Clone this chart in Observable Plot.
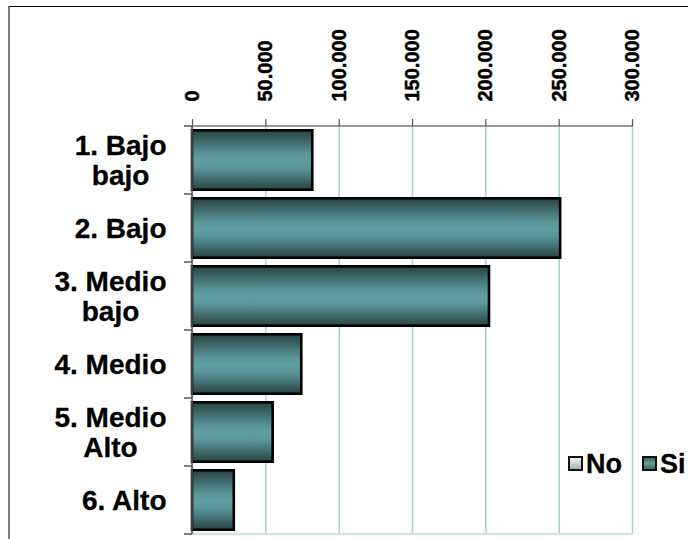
<!DOCTYPE html>
<html><head><meta charset="utf-8">
<script src="https://cdn.jsdelivr.net/npm/d3@7"></script>
<script src="https://cdn.jsdelivr.net/npm/@observablehq/plot@0.6"></script>
<style>
body{margin:0;background:#fff;font-family:"Liberation Sans",Arial,sans-serif;}
#wrap{position:relative;width:688px;height:539px;overflow:hidden;}
#wrap svg{position:absolute;left:0;top:0;}
#wrap svg text{font-weight:bold;}
#wrap svg [aria-label="x-axis tick label"] text{stroke:#000;stroke-width:0.45px;}
#wrap svg [aria-label="y-axis tick label"] text{stroke:#000;stroke-width:0.3px;}
#frame{position:absolute;left:8px;top:6px;width:800px;height:700px;border-left:2px solid #7f7f7f;border-top:1.5px solid #000;}
.legitem{position:absolute;top:449px;font-weight:bold;font-size:27px;color:#000;white-space:nowrap;line-height:30px;-webkit-text-stroke:0.3px #000;}
.legitem span.box{display:inline-block;width:11px;height:11px;border:2px solid #111;vertical-align:2px;margin-right:3px;}
</style></head>
<body>
<div id="wrap"><div id="frame"></div></div>
<script>
const categories = ["1. Bajo bajo","2. Bajo","3. Medio bajo","4. Medio","5. Medio Alto","6. Alto"];
const labels = ["1. Bajo\nbajo","2. Bajo","3. Medio\nbajo","4. Medio","5. Medio\nAlto","6. Alto"];
const siValues = [82000, 251000, 202500, 74500, 55000, 28500];
const noValues = [0, 0, 0, 0, 0, 0];
const xTicks = [0, 50000, 100000, 150000, 200000, 250000, 300000];
const seriesNames = ["No", "Si"];

const data = categories.map((c, i) => ({cat: c, si: siValues[i], no: noValues[i]}));
const fmt = d3.formatLocale({decimal: ",", thousands: ".", grouping: [3], currency: ["", ""]}).format(",d");

function axisLines(index, scales, values, dims) {
  const x = scales.x, y = scales.y;
  const x0 = x(xTicks[0]), x1 = x(xTicks[xTicks.length - 1]);
  const bw = y(categories[1]) - y(categories[0]);
  const top = y(categories[0]);
  const bottom = y(categories[categories.length - 1]) + bw;
  const g = d3.create("svg:g");
  g.append("line").attr("x1", x0).attr("x2", x1).attr("y1", bottom).attr("y2", bottom)
    .attr("stroke", "#d2e5e7").attr("stroke-width", 2.5);
  g.append("line").attr("x1", x0 - 1).attr("x2", x1 + 1).attr("y1", top).attr("y2", top)
    .attr("stroke", "#7a7a7a").attr("stroke-width", 1.5);
  g.append("line").attr("x1", x0).attr("x2", x0).attr("y1", top).attr("y2", bottom)
    .attr("stroke", "#555").attr("stroke-width", 1.5);
  for (let i = 0; i <= categories.length; i++) {
    const yy = top + i * bw;
    g.append("line").attr("x1", x0 - 8).attr("x2", x0).attr("y1", yy).attr("y2", yy)
      .attr("stroke", "#555").attr("stroke-width", 1.5);
  }
  return g.node();
}

const chart = Plot.plot({
  width: 688,
  height: 539,
  marginLeft: 192,
  marginRight: 56,
  marginTop: 125,
  marginBottom: 5,
  style: {fontFamily: "'Liberation Sans', Arial, sans-serif", overflow: "visible", background: "transparent"},
  x: {domain: [0, 300000]},
  y: {domain: categories, padding: 0},
  marks: [
    Plot.gridX(xTicks, {stroke: "#a8ced2", strokeOpacity: 1, strokeWidth: 1.5}),
    Plot.barX(data, {x: "si", y: "cat", fill: "url(#siGrad)", stroke: "#000", strokeWidth: 2.6, insetTop: 4.3, insetBottom: 4.3}),
    axisLines,
    Plot.axisX({anchor: "top", ticks: xTicks, tickFormat: fmt, tickRotate: -90, tickSize: 7, tickPadding: 17,
      fontSize: 20, fontWeight: "bold", fill: "#000", stroke: "#555", strokeWidth: 1.2, label: null}),
    Plot.axisY({tickSize: 0, tickPadding: 26, tickFormat: d => labels[categories.indexOf(d)],
      fontSize: 28, fontWeight: "bold", fill: "#000", lineHeight: 1.08, label: null, textOverflow: null})
  ]
});

const defs = d3.select(chart).insert("defs", ":first-child");
const grad = defs.append("linearGradient").attr("id", "siGrad").attr("x1", 0).attr("y1", 0).attr("x2", 0).attr("y2", 1);
[[0, "#294344"], [0.4, "#5a9698"], [0.52, "#5f9ea0"], [0.64, "#5a9698"], [1, "#294344"]]
  .forEach(([o, c]) => grad.append("stop").attr("offset", o).attr("stop-color", c));

document.getElementById("wrap").appendChild(chart);

// multi-line category labels: lines centred on each other, block right-aligned
d3.select(chart).selectAll('[aria-label="y-axis tick label"] text').each(function() {
  const tspans = this.querySelectorAll("tspan");
  if (tspans.length < 2) return;
  let w = 0;
  tspans.forEach(t => { w = Math.max(w, t.getComputedTextLength()); });
  this.setAttribute("text-anchor", "middle");
  tspans.forEach(t => t.setAttribute("x", -w / 2));
});

const wrap = d3.select("#wrap");
const boxFills = ["linear-gradient(#eef3f3,#9fb5b5)", "linear-gradient(#3d6668,#5f9ea0,#3d6668)"];
const legLeft = [568, 642];
seriesNames.forEach((s, i) => {
  const it = wrap.append("div").attr("class", "legitem").style("left", legLeft[i] + "px");
  it.append("span").attr("class", "box").style("background", boxFills[i]);
  it.append("span").text(s);
});
</script>
</body></html>
